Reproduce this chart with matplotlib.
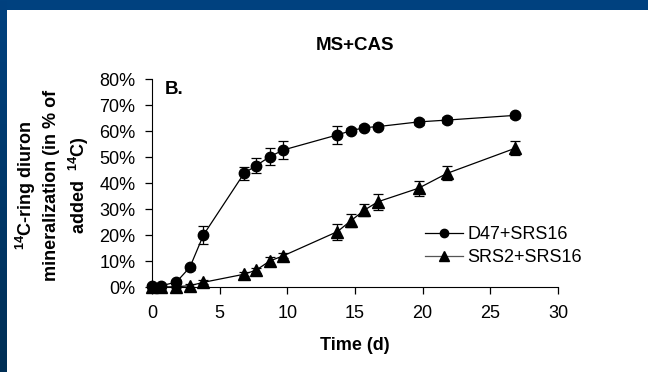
import matplotlib
matplotlib.use("Agg")
import matplotlib.pyplot as plt
import numpy as np
from matplotlib.ticker import PercentFormatter
from matplotlib.colors import LinearSegmentedColormap
from matplotlib.lines import Line2D

plt.rcParams['font.family'] = ['Liberation Sans', 'DejaVu Sans']
plt.rcParams['mathtext.fontset'] = 'custom'
plt.rcParams['mathtext.rm'] = 'Liberation Sans'
plt.rcParams['mathtext.bf'] = 'Liberation Sans:bold'

# Data
days_d47 = [0, 0.7, 1.8, 2.8, 3.8, 6.8, 7.7, 8.7, 9.7, 13.7, 14.7, 15.7, 16.7, 19.7, 21.8, 26.8]
d47 = [0.5, 0.5, 1.9, 7.6, 20.0, 43.7, 46.7, 50.1, 52.7, 58.5, 60.1, 61.3, 61.7, 63.5, 64.2, 66.0]
d47_err = [0.5, 0.5, 0.8, 1.0, 3.3, 2.5, 2.9, 3.3, 3.6, 3.4, 1.0, 1.0, 1.0, 1.0, 1.0, 1.0]

days_srs2 = [0, 0.7, 1.8, 2.8, 3.8, 6.8, 7.7, 8.7, 9.7, 13.7, 14.7, 15.7, 16.7, 19.7, 21.8, 26.8]
srs2 = [0.0, 0.0, 0.1, 0.5, 1.8, 4.9, 6.5, 10.0, 12.0, 21.3, 25.5, 29.6, 32.8, 38.0, 43.7, 53.3]
srs2_err = [0.3, 0.3, 0.3, 0.5, 0.8, 0.8, 1.0, 1.5, 1.0, 3.1, 2.6, 2.2, 3.0, 2.9, 2.7, 2.7]

series_labels = ['D47+SRS16', 'SRS2+SRS16']
xticks = [0, 5, 10, 15, 20, 25, 30]
yticks = [0, 10, 20, 30, 40, 50, 60, 70, 80]

W, H = 648, 372
fig = plt.figure(figsize=(W / 100, H / 100), dpi=100)
fig.patch.set_facecolor('white')

# Blue frame
frame_top = fig.add_axes([0, 1 - 10 / H, 1, 10 / H])
frame_top.set_axis_off()
frame_top.add_patch(plt.Rectangle((0, 0), 1, 1, color='#00417f', transform=frame_top.transAxes))
frame_left = fig.add_axes([0, 0, 7 / W, 1])
frame_left.set_axis_off()
grad = np.linspace(0, 1, 256).reshape(-1, 1)
cmap = LinearSegmentedColormap.from_list('b', ['#002f55', '#00417f'])
frame_left.imshow(grad, aspect='auto', cmap=cmap, origin='lower', extent=[0, 1, 0, 1])
frame_left.set_xlim(0, 1); frame_left.set_ylim(0, 1)

ax = fig.add_axes([152 / W, 1 - 287 / H, (558 - 152) / W, (287 - 79) / H])

ax.errorbar(days_d47, d47, yerr=d47_err, fmt='-o', color='black', lw=0.9,
            ms=7.5, capsize=3.5, elinewidth=0.9, capthick=0.9)
ax.errorbar(days_srs2, srs2, yerr=srs2_err, fmt='-^', color='black', lw=0.9,
            ms=8.5, capsize=3.5, elinewidth=0.9, capthick=0.9)

ax.set_xlim(0, 30)
ax.set_ylim(0, 80)
ax.set_xticks(xticks)
ax.set_yticks(yticks)
ax.yaxis.set_major_formatter(PercentFormatter(decimals=0))
ax.spines['top'].set_visible(False)
ax.spines['right'].set_visible(False)
ax.tick_params(direction='out', length=5, width=0.9, labelsize=13)
ax.tick_params(axis='y', pad=7)
ax.tick_params(axis='x', pad=8)
for child in ax.get_children():
    try:
        child.set_clip_on(False)
    except Exception:
        pass

fig.text(355 / W, 1 - 46 / H, 'MS+CAS', fontsize=13.5, fontweight='bold',
         ha='center', va='center')
fig.text(165 / W, 1 - 81 / H, 'B.', fontsize=13.5, fontweight='bold',
         ha='left', va='top')
fig.text(355 / W, 1 - 345 / H, 'Time (d)', fontsize=13, fontweight='bold',
         ha='center', va='center')

ylab_lines = ['$\\mathbf{^{14}}$C-ring diuron', 'mineralization (in % of', 'added  $\\mathbf{^{14}}$C)']
ylab_x = [26, 52, 79]
for s, xp in zip(ylab_lines, ylab_x):
    fig.text(xp / W, 1 - 185 / H, s, rotation=90, ha='center', va='center',
             fontsize=13, fontweight='bold')

h1 = Line2D([], [], color='black', lw=0.9, marker='o', ms=6)
h2 = Line2D([], [], color='#555555', lw=0.9, marker='^', mfc='black', mec='black', ms=6.5)
fig.legend([h1, h2], series_labels, loc='upper left',
           bbox_to_anchor=(425 / W, 1 - 226 / H), frameon=False, fontsize=13,
           handlelength=2.1, handletextpad=0.25, labelspacing=0.36,
           borderpad=0, borderaxespad=0)

fig.savefig('out.png', dpi=100, facecolor='white')
